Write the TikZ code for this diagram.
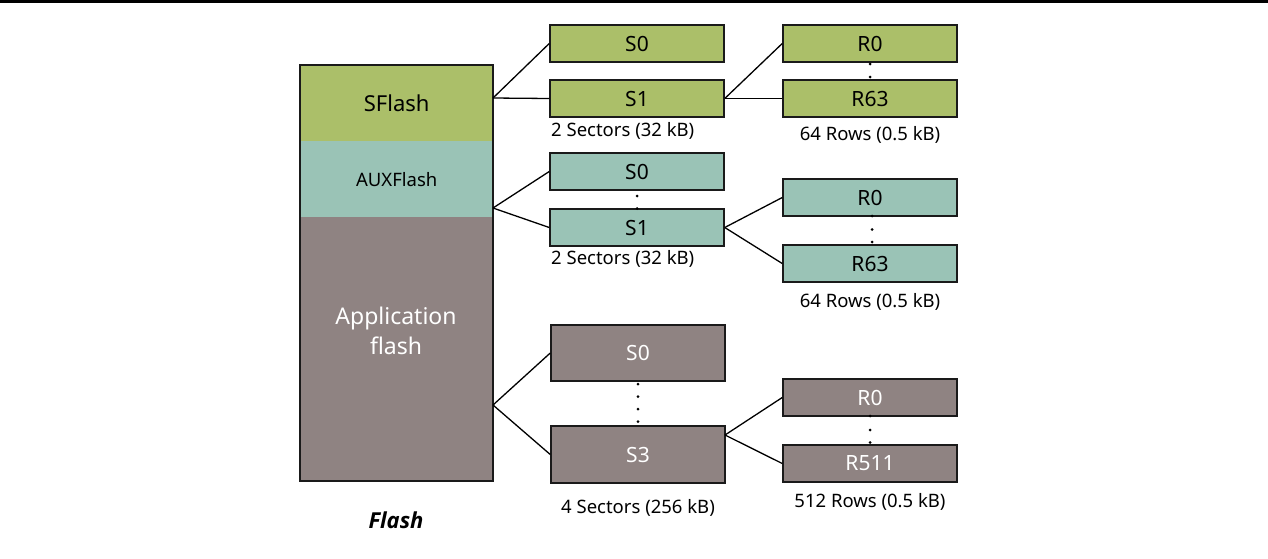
\documentclass[tikz,border=0pt]{standalone}
\usepackage{fontspec}
\setmainfont{Noto Sans}
\newfontfamily\flashfont{Open Sans}
\definecolor{cgreen}{HTML}{ABBF69}
\definecolor{cteal}{HTML}{9AC3B6}
\definecolor{cbrown}{HTML}{8F8382}
\definecolor{cline}{HTML}{1A1A1A}
\begin{document}
\begin{tikzpicture}[x=1pt,y=-1pt,
  box/.style={draw=cline,line width=1.5pt,minimum width=174pt,inner sep=0pt,font=\fontsize{21}{24}\selectfont},
  gbox/.style={box,fill=cgreen,minimum height=37pt},
  tbox/.style={box,fill=cteal,minimum height=37pt},
  bbox/.style={box,fill=cbrown,text=white},
  conn/.style={draw=black,line width=1.3pt},
  lbl/.style={inner sep=0pt,font=\fontsize{18.5}{22}\selectfont},
  dotc/.style={circle,fill=black,inner sep=0pt,minimum size=3pt}]
\useasboundingbox (0,0) rectangle (1268,558);
\fill[black] (0,0) rectangle (1268,3);
% main block
\node[fill=cgreen,minimum width=193pt,minimum height=76pt,inner sep=0pt,anchor=north west,font=\fontsize{22}{26}\selectfont] (sf) at (300,65) {SFlash};
\node[fill=cteal,minimum width=193pt,minimum height=76pt,inner sep=0pt,anchor=north west,font=\fontsize{18.5}{22}\selectfont] (aux) at (300,141) {AUXFlash};
\node[fill=cbrown,minimum width=193pt,minimum height=264pt,inner sep=0pt,anchor=north west] (app) at (300,217) {};
\node[text=white,align=center,font=\fontsize{23}{30}\selectfont,inner sep=0pt] (apptxt) at (396,331) {Application\\flash};
\draw[cline,line width=1.5pt] (300,65) rectangle (493,481);
\node[font=\fontsize{22}{26}\selectfont\flashfont\bfseries\itshape,inner sep=0pt] (flash) at (396,520) {Flash};
\coordinate (sfo) at (493,98);
\coordinate (auxo) at (493,208);
\coordinate (appo) at (493,405);
% SFlash sectors
\node[gbox] (gs0) at (637,43.5) {S0};
\node[gbox] (gs1) at (637,98.5) {S1};
\node[lbl,anchor=west] (gsl) at (551,131) {2 Sectors (32 kB)};
\node[gbox] (gr0) at (870,43.5) {R0};
\node[gbox] (gr63) at (870,98.5) {R63};
\node[lbl] (grl) at (870,135) {64 Rows (0.5 kB)};
\node[dotc] (gd1) at (870,64) {};
\node[dotc] (gd2) at (870,77) {};
\draw[conn] (sfo) -- (gs0.west);
\draw[conn] (sfo) -- (gs1.west);
\draw[conn] (gs1.east) -- (gr0.west);
\draw[conn] (gs1.east) -- (gr63.west);
% AUX sectors
\node[tbox] (ts0) at (637,171.5) {S0};
\node[tbox] (ts1) at (637,227.5) {S1};
\node[dotc] (td1) at (637,196) {};
\node[dotc] (td2) at (637,208.5) {};
\node[lbl,anchor=west] (tsl) at (551,259) {2 Sectors (32 kB)};
\node[tbox] (tr0) at (870,197.5) {R0};
\node[tbox] (tr63) at (870,263.5) {R63};
\node[dotc] (td3) at (872,216) {};
\node[dotc] (td4) at (872,229.5) {};
\node[dotc] (td5) at (872,242) {};
\node[lbl] (trl) at (870,302) {64 Rows (0.5 kB)};
\draw[conn] (auxo) -- (ts0.west);
\draw[conn] (auxo) -- (ts1.west);
\draw[conn] (ts1.east) -- (tr0.west);
\draw[conn] (ts1.east) -- (tr63.west);
% App sectors
\node[bbox,minimum height=56pt] (bs0) at (638,353) {S0};
\node[bbox,minimum height=57pt] (bs3) at (638,454.5) {S3};
\node[dotc] (bd1) at (638,384) {};
\node[dotc] (bd2) at (638,396.5) {};
\node[dotc] (bd3) at (638,409) {};
\node[dotc] (bd4) at (638,421.5) {};
\node[lbl] (bsl) at (638,508) {4 Sectors (256 kB)};
\node[bbox,minimum height=37pt] (br0) at (870,397.5) {R0};
\node[bbox,minimum height=37pt] (br511) at (870,463.5) {R511};
\node[dotc] (bd5) at (870,416) {};
\node[dotc] (bd6) at (870,430) {};
\node[dotc] (bd7) at (870,442.5) {};
\node[lbl] (brl) at (870,502) {512 Rows (0.5 kB)};
\coordinate (bs3o) at (725,435);
\draw[conn] (appo) -- (bs0.west);
\draw[conn] (appo) -- (bs3.west);
\draw[conn] (bs3o) -- (br0.west);
\draw[conn] (bs3o) -- (br511.west);
\end{tikzpicture}
\end{document}
